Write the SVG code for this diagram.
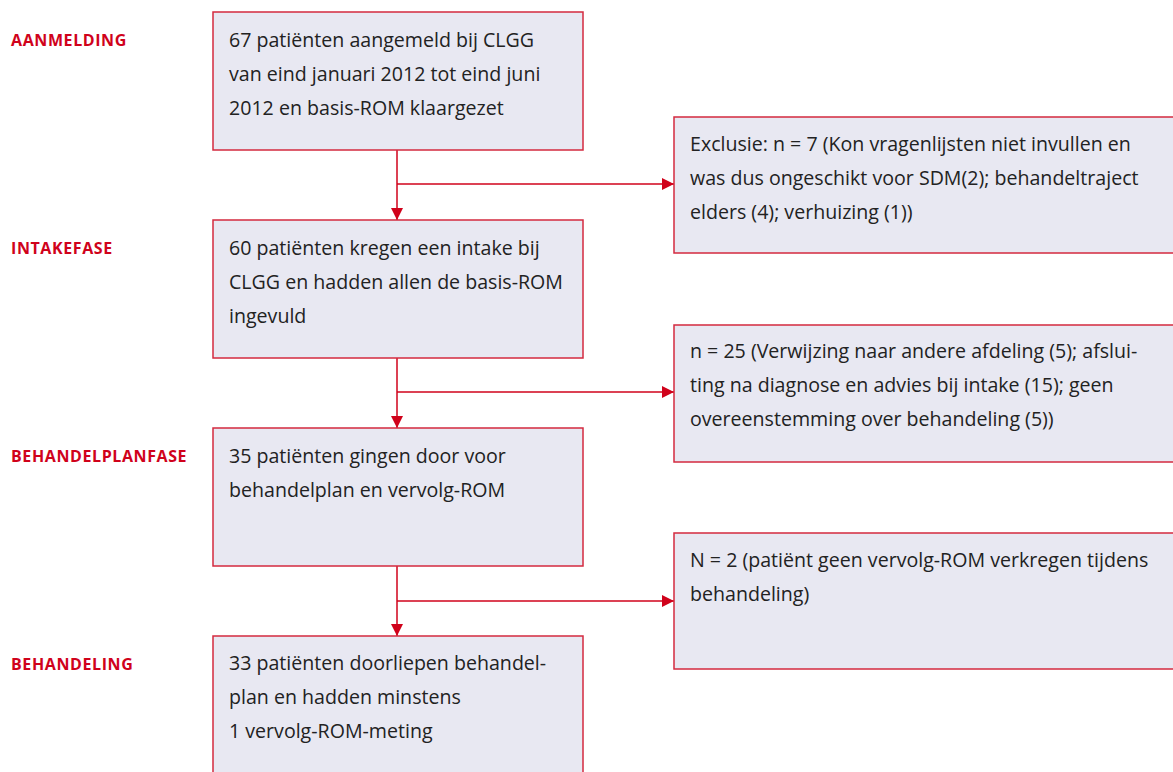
<svg xmlns="http://www.w3.org/2000/svg" width="1173" height="772" viewBox="0 0 1173 772">
<style>
.box{fill:#e8e8f2;stroke:#d42a3f;stroke-width:1.5}
.t{font-family:"Open Sans","Liberation Sans",sans-serif;font-size:19.6px;fill:#222}
.lab{font-family:"Open Sans","Liberation Sans",sans-serif;font-size:16px;font-weight:bold;fill:#d0021b;letter-spacing:0.6px}
.ln{stroke:#d0021b;stroke-width:1.5;fill:none}
</style>
<defs>
<marker id="ah" markerWidth="12" markerHeight="12" refX="12" refY="6" orient="auto" markerUnits="userSpaceOnUse" viewBox="0 0 12 12">
<path d="M0,0 L12,6 L0,12 Z" fill="#d0021b"/>
</marker>
</defs>
<rect width="1173" height="772" fill="#fff"/>
<g id="labels">
<text class="lab" x="11" y="46">AANMELDING</text>
<text class="lab" x="11" y="254">INTAKEFASE</text>
<text class="lab" x="11" y="462">BEHANDELPLANFASE</text>
<text class="lab" x="11" y="670">BEHANDELING</text>
</g>
<g id="connectors">
<path class="ln" d="M397,150 V220" marker-end="url(#ah)"/>
<path class="ln" d="M397,184 H674" marker-end="url(#ah)"/>
<path class="ln" d="M397,358 V428" marker-end="url(#ah)"/>
<path class="ln" d="M397,392 H674" marker-end="url(#ah)"/>
<path class="ln" d="M397,566 V636" marker-end="url(#ah)"/>
<path class="ln" d="M397,601 H674" marker-end="url(#ah)"/>
</g>
<g id="n1">
<rect class="box" x="213" y="12" width="370" height="138"/>
<text class="t" x="229" y="47">67 patiënten aangemeld bij CLGG</text>
<text class="t" x="229" y="81">van eind januari 2012 tot eind juni</text>
<text class="t" x="229" y="115">2012 en basis-ROM klaargezet</text>
</g>
<g id="e1">
<rect class="box" x="674" y="117" width="510" height="136"/>
<text class="t" x="690" y="151">Exclusie: n = 7 (Kon vragenlijsten niet invullen en</text>
<text class="t" x="690" y="185">was dus ongeschikt voor SDM(2); behandeltraject</text>
<text class="t" x="690" y="219">elders (4); verhuizing (1))</text>
</g>
<g id="n2">
<rect class="box" x="213" y="220" width="370" height="138"/>
<text class="t" x="229" y="255">60 patiënten kregen een intake bij</text>
<text class="t" x="229" y="289">CLGG en hadden allen de basis-ROM</text>
<text class="t" x="229" y="323">ingevuld</text>
</g>
<g id="e2">
<rect class="box" x="674" y="325" width="510" height="137"/>
<text class="t" x="690" y="358">n = 25 (Verwijzing naar andere afdeling (5); afslui-</text>
<text class="t" x="690" y="392">ting na diagnose en advies bij intake (15); geen</text>
<text class="t" x="690" y="426">overeenstemming over behandeling (5))</text>
</g>
<g id="n3">
<rect class="box" x="213" y="428" width="370" height="138"/>
<text class="t" x="229" y="463">35 patiënten gingen door voor</text>
<text class="t" x="229" y="497">behandelplan en vervolg-ROM</text>
</g>
<g id="e3">
<rect class="box" x="674" y="533" width="510" height="136"/>
<text class="t" x="690" y="567">N = 2 (patiënt geen vervolg-ROM verkregen tijdens</text>
<text class="t" x="690" y="601">behandeling)</text>
</g>
<g id="n4">
<rect class="box" x="213" y="636" width="370" height="150"/>
<text class="t" x="229" y="670">33 patiënten doorliepen behandel-</text>
<text class="t" x="229" y="704">plan en hadden minstens</text>
<text class="t" x="229" y="738">1 vervolg-ROM-meting</text>
</g>
</svg>
